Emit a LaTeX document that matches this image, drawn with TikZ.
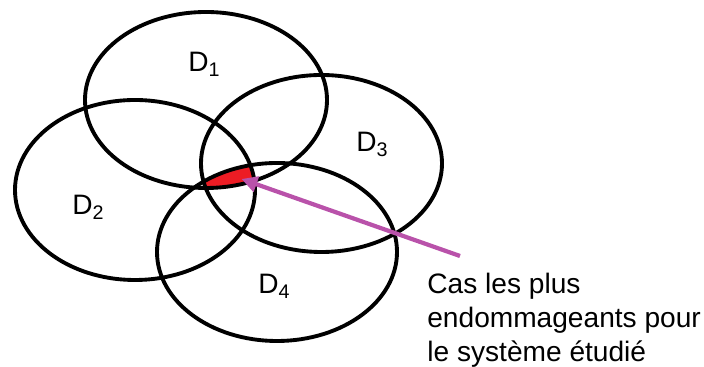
\documentclass[tikz,border=0pt]{standalone}
\usepackage{fontspec}
\setmainfont{Liberation Sans}
\usetikzlibrary{arrows.meta}
\definecolor{casred}{RGB}{237,28,36}
\definecolor{casarrow}{RGB}{185,82,170}

\begin{document}
\begin{tikzpicture}[disk/.style = {line width=2.2pt},
  dlabel/.style = {inner sep=0pt, anchor=base west, font=\fontsize{16}{19}\selectfont}]
\useasboundingbox (0,0) rectangle (14.08,7.34);
\coordinate (c1) at (4.12,5.34);
\coordinate (c2) at (2.70,3.54);
\coordinate (c3) at (6.43,4.07);
\coordinate (c4) at (5.54,2.30);
% zone commune aux quatre domaines
\begin{scope}
\clip (c1) ellipse [x radius=2.42, y radius=1.76];
\clip (c2) ellipse [x radius=2.40, y radius=1.80];
\clip (c3) ellipse [x radius=2.41, y radius=1.77];
\fill[casred] (c4) ellipse [x radius=2.40, y radius=1.78];
\end{scope}
\draw[disk] (c1) ellipse [x radius=2.42, y radius=1.76];
\draw[disk] (c2) ellipse [x radius=2.40, y radius=1.80];
\draw[disk] (c3) ellipse [x radius=2.41, y radius=1.77];
\draw[disk] (c4) ellipse [x radius=2.40, y radius=1.78];
\node[dlabel] (d1) at (3.76,5.90) {D\textsubscript{1}};
\node[dlabel] (d2) at (1.44,3.04) {D\textsubscript{2}};
\node[dlabel] (d3) at (7.12,4.30) {D\textsubscript{3}};
\node[dlabel] (d4) at (5.16,1.46) {D\textsubscript{4}};
% fleche vers la zone rouge
\coordinate (tail) at (9.20,2.22);
\coordinate (tip) at (4.83,3.76);
\draw[casarrow, line width=2.4pt, -{Triangle[length=9pt, width=9pt]}] (tail) -- (tip);
\node[inner sep=0pt, anchor=north west, align=left,
  font=\fontsize{16}{19.3}\selectfont] (cas) at (8.54,1.88)
  {Cas les plus\\endommageants pour\\le système étudié};
\end{tikzpicture}
\end{document}
